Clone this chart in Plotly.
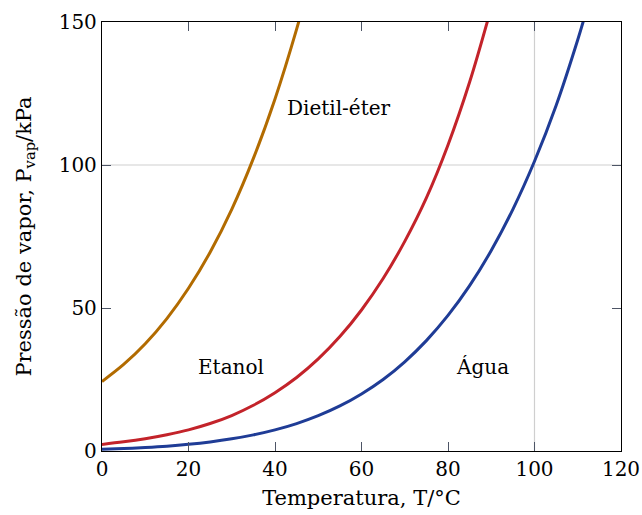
import plotly.graph_objects as go

# Temperature (°C) and vapour pressure (kPa)
t_water = [0, 5, 10, 15, 20, 25, 30, 35, 40, 45, 50, 55, 60, 65, 70, 75, 80, 85, 90, 95, 100, 105, 110, 112]
p_water = [0.6, 0.87, 1.23, 1.7, 2.34, 3.17, 4.25, 5.63, 7.38, 9.59, 12.35, 15.76, 19.95, 25.0, 31.2, 38.6, 47.4, 57.8, 70.1, 84.5, 101.3, 120.8, 143.8, 154.0]

t_ethanol = [0, 5, 10, 15, 20, 25, 30, 35, 40, 45, 50, 55, 60, 65, 70, 75, 80, 85, 90]
p_ethanol = [2.3, 3.2, 4.3, 5.7, 7.4, 9.6, 12.4, 16.0, 20.4, 25.7, 32.2, 40.0, 49.3, 60.3, 73.3, 88.5, 107.0, 129.0, 155.0]

t_ether = [0, 5, 10, 15, 20, 25, 30, 35, 40, 45, 47]
p_ether = [24.3, 30.25, 37.5, 46.3, 56.9, 69.5, 84.5, 102.3, 123.1, 147.5, 158.5]

labels = ["Dietil-éter", "Etanol", "Água"]
label_x = [54.8, 29.8, 88.0]
label_y = [120.0, 29.4, 29.4]

colors = ["#b26b00", "#c3232a", "#1f3c96"]
FONT = "DejaVu Serif"

fig = go.Figure()
for t, p, c in [(t_ether, p_ether, colors[0]), (t_ethanol, p_ethanol, colors[1]), (t_water, p_water, colors[2])]:
    fig.add_trace(go.Scatter(x=t, y=p, mode="lines", line=dict(color=c, width=3, shape="spline"),
                             showlegend=False, hoverinfo="skip"))

for txt, x, y in zip(labels, label_x, label_y):
    fig.add_annotation(x=x, y=y, text=txt, showarrow=False, font=dict(family=FONT, size=20, color="black"))

# reference grid lines at 100
fig.add_shape(type="line", xref="x", yref="paper", x0=100, x1=100, y0=0, y1=1,
              line=dict(color="#cfcfcf", width=1.2), layer="below")
fig.add_shape(type="line", xref="paper", yref="y", x0=0, x1=1, y0=100, y1=100,
              line=dict(color="#cfcfcf", width=1.2), layer="below")

axis_common = dict(showgrid=False, zeroline=False, showline=True, linecolor="black", linewidth=1.3,
                   mirror="ticks", ticks="inside", ticklen=9, tickwidth=1.3, tickcolor="#4d5566",
                   automargin=False,
                   tickfont=dict(family=FONT, size=20, color="black"))

fig.update_xaxes(range=[0, 120], tickvals=[0, 20, 40, 60, 80, 100, 120],
                 title=dict(text="Temperatura, T/°C", font=dict(family=FONT, size=21, color="black"), standoff=10),
                 **axis_common)
fig.update_yaxes(range=[0, 150], tickvals=[0, 50, 100, 150],
                 title=dict(text="Pressão de vapor, P<sub>vap</sub>/kPa", font=dict(family=FONT, size=21, color="black"), standoff=21),
                 **axis_common)

fig.update_layout(width=642, height=515, margin=dict(l=102, r=21, t=22, b=64),
                  plot_bgcolor="white", paper_bgcolor="white")

fig.write_html("out.html")
